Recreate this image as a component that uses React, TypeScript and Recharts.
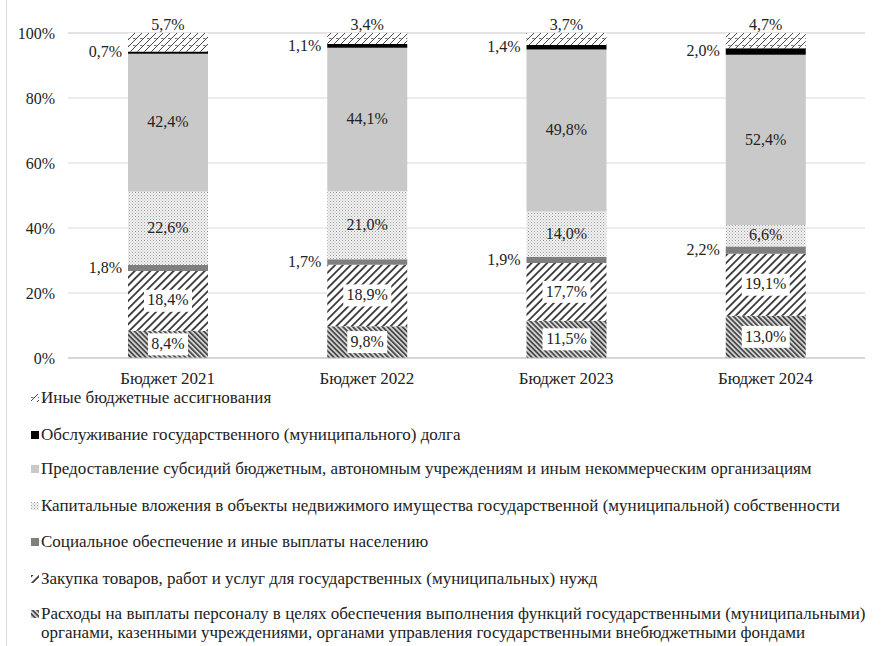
import { BarChart, Bar, XAxis, YAxis, CartesianGrid, LabelList } from 'recharts'

const categories = ['Бюджет 2021', 'Бюджет 2022', 'Бюджет 2023', 'Бюджет 2024']

// shares by budget item, bottom to top
const personnel = [8.4, 9.8, 11.5, 13.0]
const purchases = [18.4, 18.9, 17.7, 19.1]
const social = [1.8, 1.7, 1.9, 2.2]
const capital = [22.6, 21.0, 14.0, 6.6]
const subsidies = [42.4, 44.1, 49.8, 52.4]
const debt = [0.7, 1.1, 1.4, 2.0]
const other = [5.7, 3.4, 3.7, 4.7]

const yTicks = [0, 20, 40, 60, 80, 100]

const SERIES = [
  { key: 'personnel', fill: 'url(#pPersonnel)', label: 'boxed' },
  { key: 'purchases', fill: 'url(#pPurchases)', label: 'boxed' },
  { key: 'social', fill: '#7f7f7f', label: 'left' },
  { key: 'capital', fill: 'url(#pCapital)', label: 'plain' },
  { key: 'subsidies', fill: '#c9c9c9', label: 'plain' },
  { key: 'debt', fill: '#000000', label: 'left' },
  { key: 'other', fill: 'url(#pOther)', label: 'top' },
]

const LEGEND = [
  { fill: 'url(#pOther)', text: ['Иные бюджетные ассигнования'], top: 388 },
  { fill: '#000000', text: ['Обслуживание государственного (муниципального) долга'], top: 425 },
  { fill: '#c9c9c9', text: ['Предоставление субсидий бюджетным, автономным учреждениям и иным некоммерческим организациям'], top: 459 },
  { fill: 'url(#pCapital)', text: ['Капитальные вложения в объекты недвижимого имущества государственной (муниципальной) собственности'], top: 496 },
  { fill: '#7f7f7f', text: ['Социальное обеспечение и иные выплаты населению'], top: 532 },
  { fill: 'url(#pPurchases)', text: ['Закупка товаров, работ и услуг для государственных (муниципальных)  нужд'], top: 569 },
  {
    fill: 'url(#pPersonnel)',
    text: [
      'Расходы на выплаты персоналу в целях обеспечения выполнения функций государственными (муниципальными)',
      'органами, казенными учреждениями, органами управления государственными внебюджетными фондами',
    ],
    top: 604,
  },
]

const FONT = "'Liberation Serif', serif"

const fmt = (v: number) => `${v.toFixed(1).replace('.', ',')}%`

// eslint-disable-next-line @typescript-eslint/no-explicit-any
const makeLabel = (mode: string) => (props: any) => {
  const { x, y, width, height, value } = props
  const text = fmt(Number(value))
  const cx = x + width / 2
  const cy = y + height / 2
  if (mode === 'boxed') {
    const w = text.length * 8 + 8
    return (
      <g>
        <rect x={cx - w / 2} y={cy - 11} width={w} height={22} fill="#ffffff" />
        <text x={cx} y={cy + 1} textAnchor="middle" dominantBaseline="middle" fontSize={16} fill="#222" style={{ fontFamily: FONT }}>
          {text}
        </text>
      </g>
    )
  }
  if (mode === 'left') {
    return (
      <text x={x - 6} y={cy + 1} textAnchor="end" dominantBaseline="middle" fontSize={16} fill="#222" style={{ fontFamily: FONT }}>
        {text}
      </text>
    )
  }
  if (mode === 'top') {
    return (
      <text x={cx} y={y - 7} textAnchor="middle" dominantBaseline="middle" fontSize={16} fill="#222" style={{ fontFamily: FONT }}>
        {text}
      </text>
    )
  }
  return (
    <text x={cx} y={cy + 1} textAnchor="middle" dominantBaseline="middle" fontSize={16} fill="#222" style={{ fontFamily: FONT }}>
      {text}
    </text>
  )
}

export default function App() {
  const data = categories.map((name, i) => ({
    name,
    personnel: personnel[i],
    purchases: purchases[i],
    social: social[i],
    capital: capital[i],
    subsidies: subsidies[i],
    debt: debt[i],
    other: other[i],
  }))

  return (
    <div style={{ position: 'absolute', left: 0, top: 0, width: 885, height: 646, background: '#fff', fontFamily: FONT }}>
      <div style={{ position: 'absolute', left: 6, top: 0, width: 1, height: 646, background: '#d9d9d9' }} />
      <BarChart width={885} height={392} data={data} margin={{ top: 33, right: 20, left: 0, bottom: 0 }} style={{ fontFamily: FONT }}>
        <defs>
          <pattern id="pPersonnel" width="3.5" height="3.5" patternUnits="userSpaceOnUse" patternTransform="rotate(-45)">
            <rect width="3.5" height="3.5" fill="#d8d8d8" />
            <rect width="1.8" height="3.5" fill="#4a4a4a" />
          </pattern>
          <pattern id="pPurchases" width="5.5" height="5.5" patternUnits="userSpaceOnUse" patternTransform="rotate(45)">
            <rect width="5.5" height="5.5" fill="#ffffff" />
            <rect width="1.8" height="5.5" fill="#3a3a3a" />
          </pattern>
          <pattern id="pCapital" width="3" height="3" patternUnits="userSpaceOnUse">
            <rect width="3" height="3" fill="#f2f2f2" />
            <rect width="1" height="1" fill="#9a9a9a" />
            <rect x="1.5" y="1.5" width="1" height="1" fill="#b5b5b5" />
          </pattern>
          <pattern id="pOther" width="7" height="7" patternUnits="userSpaceOnUse">
            <rect width="7" height="7" fill="#ffffff" />
            <path d="M0,7 L7,0" stroke="#333" strokeWidth="0.9" />
            <path d="M0,3.5 L2.5,3.5" stroke="#333" strokeWidth="0.7" />
          </pattern>
        </defs>
        <CartesianGrid vertical={false} stroke="#d9d9d9" />
        <XAxis
          dataKey="name"
          height={34}
          tickLine={false}
          axisLine={{ stroke: '#bfbfbf' }}
          tick={{ fontSize: 17, fill: '#222', style: { fontFamily: FONT } }}
          tickMargin={8}
        />
        <YAxis
          width={68}
          domain={[0, 100]}
          ticks={yTicks}
          tickFormatter={(v: number) => `${v}%`}
          axisLine={false}
          tickLine={false}
          tickSize={0}
          tickMargin={13}
          tick={{ fontSize: 16, fill: '#222', style: { fontFamily: FONT } }}
        />
        {SERIES.map((s) => (
          <Bar key={s.key} dataKey={s.key} stackId="a" fill={s.fill} barSize={80} isAnimationActive={false}>
            <LabelList dataKey={s.key} content={makeLabel(s.label)} />
          </Bar>
        ))}
      </BarChart>
      {LEGEND.map((item) => (
        <div key={item.text[0]} style={{ position: 'absolute', left: 31, top: item.top, fontSize: 17, color: '#222', lineHeight: '19px', whiteSpace: 'nowrap', fontFamily: FONT }}>
          <svg width={8} height={8} style={{ position: 'absolute', left: 0, top: 6 }}>
            <rect width={8} height={8} fill={item.fill} />
          </svg>
          <div style={{ marginLeft: 10 }}>
            {item.text.map((t) => (
              <div key={t}>{t}</div>
            ))}
          </div>
        </div>
      ))}
    </div>
  )
}
